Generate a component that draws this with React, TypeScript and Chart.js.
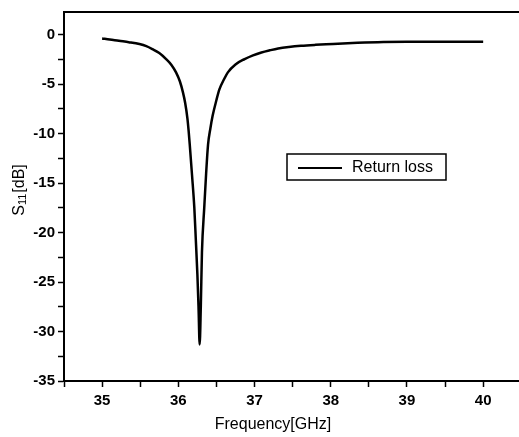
import React, { useEffect, useRef } from "react";
import { Chart, registerables } from "chart.js";

Chart.register(...registerables);

const frequencyGHz = [
  35.0, 35.1, 35.22, 35.35, 35.49, 35.58, 35.66, 35.75, 35.84, 35.91, 35.97, 36.02, 36.06, 36.09,
  36.12, 36.135, 36.15, 36.18, 36.21, 36.23, 36.25, 36.265, 36.28, 36.295, 36.31, 36.34, 36.365,
  36.39, 36.42, 36.45, 36.5, 36.54, 36.6, 36.65, 36.75, 36.87, 36.98, 37.09, 37.2, 37.31, 37.45,
  37.61, 37.8, 38.03, 38.35, 38.69, 39.0, 39.5, 40.0,
];
const returnLossDb = [
  -0.37, -0.47, -0.61, -0.75, -0.94, -1.15, -1.45, -1.85, -2.46, -3.05, -3.8, -4.7, -5.8, -6.9,
  -8.5, -9.7, -11.1, -14.2, -17.5, -20.8, -24.2, -27.5, -31.3, -27.5, -22.0, -17.5, -14.0,
  -11.1, -9.5, -8.2, -6.6, -5.5, -4.5, -3.8, -3.0, -2.46, -2.08, -1.79, -1.57, -1.38, -1.23,
  -1.11, -1.02, -0.94, -0.82, -0.73, -0.7, -0.7, -0.71,
];
const seriesLabel = "Return loss";
const xTitle = "Frequency[GHz]";
const yTitleMain = "S";
const yTitleSub = "11";
const yTitleUnit = "[dB]";

const FONT = '"Liberation Sans", Arial, sans-serif';

const decor = {
  id: "decor",
  afterDraw(chart: any) {
    const { ctx, chartArea } = chart;
    ctx.save();
    ctx.strokeStyle = "#000";
    ctx.lineWidth = 2;
    ctx.beginPath();
    ctx.moveTo(chartArea.left - 1, chartArea.top);
    ctx.lineTo(chartArea.right, chartArea.top);
    ctx.stroke();

    // x title
    ctx.fillStyle = "#000";
    ctx.font = `16px ${FONT}`;
    ctx.textAlign = "center";
    ctx.textBaseline = "middle";
    ctx.fillText(xTitle, 273, 425);

    // y title with subscript
    ctx.save();
    ctx.translate(20, 190);
    ctx.rotate(-Math.PI / 2);
    ctx.textAlign = "left";
    ctx.textBaseline = "middle";
    const big = `16px ${FONT}`;
    const small = `11px ${FONT}`;
    ctx.font = big;
    const w1 = ctx.measureText(yTitleMain).width;
    const w3 = ctx.measureText(yTitleUnit).width;
    ctx.font = small;
    const w2 = ctx.measureText(yTitleSub).width;
    let x = -(w1 + w2 + w3 + 1) / 2;
    ctx.font = big;
    ctx.fillText(yTitleMain, x, 0);
    x += w1;
    ctx.font = small;
    ctx.fillText(yTitleSub, x, 3);
    x += w2 + 1;
    ctx.font = big;
    ctx.fillText(yTitleUnit, x, 0);
    ctx.restore();

    // legend
    ctx.lineWidth = 1.5;
    ctx.strokeRect(287, 154, 159, 26);
    ctx.lineWidth = 2;
    ctx.beginPath();
    ctx.moveTo(298, 168);
    ctx.lineTo(342, 168);
    ctx.stroke();
    ctx.font = `16px ${FONT}`;
    ctx.textAlign = "left";
    ctx.textBaseline = "middle";
    ctx.fillText(seriesLabel, 352, 168);
    ctx.restore();
  },
};

export default function App() {
  const ref = useRef<HTMLCanvasElement | null>(null);
  useEffect(() => {
    document.body.style.margin = "0";
    if (!ref.current) return;
    const chart = new Chart(ref.current, {
      type: "line",
      data: {
        datasets: [
          {
            label: seriesLabel,
            data: frequencyGHz.map((f, i) => ({ x: f, y: returnLossDb[i] })),
            borderColor: "#000",
            borderWidth: 2.5,
            pointRadius: 0,
            fill: false,
            cubicInterpolationMode: "monotone",
          },
        ],
      },
      options: {
        animation: false,
        responsive: true,
        maintainAspectRatio: false,
        layout: { padding: { top: 11, right: 0, left: 0, bottom: 0 } },
        plugins: { legend: { display: false }, tooltip: { enabled: false } },
        scales: {
          x: {
            type: "linear",
            min: 34.5,
            max: 40.47,
            afterFit: (s: any) => {
              s.height = 56;
            },
            border: { display: true, color: "#000", width: 2 },
            grid: { drawOnChartArea: false, drawTicks: true, tickLength: 6, tickColor: "#000", tickWidth: 1.5 },
            ticks: {
              stepSize: 0.5,
              includeBounds: false,
              autoSkip: false,
              maxRotation: 0,
              padding: 5,
              color: "#000",
              font: { family: FONT, size: 15, weight: "bold" },
              callback: (v: any) => (Number.isInteger(v) ? String(v) : ""),
            },
          },
          y: {
            type: "linear",
            min: -35,
            max: 2.3,
            afterFit: (s: any) => {
              s.width = 64;
            },
            border: { display: true, color: "#000", width: 2 },
            grid: { drawOnChartArea: false, drawTicks: true, tickLength: 6, tickColor: "#000", tickWidth: 1.5 },
            ticks: {
              stepSize: 2.5,
              includeBounds: false,
              autoSkip: false,
              padding: 3,
              color: "#000",
              font: { family: FONT, size: 15, weight: "bold" },
              callback: (v: any) => (Number(v) % 5 === 0 ? String(v) : ""),
            },
          },
        },
      },
      plugins: [decor],
    });
    return () => chart.destroy();
  }, []);
  return (
    <div style={{ position: "absolute", left: 0, top: 0, width: 519, height: 437 }}>
      <canvas ref={ref} />
    </div>
  );
}
